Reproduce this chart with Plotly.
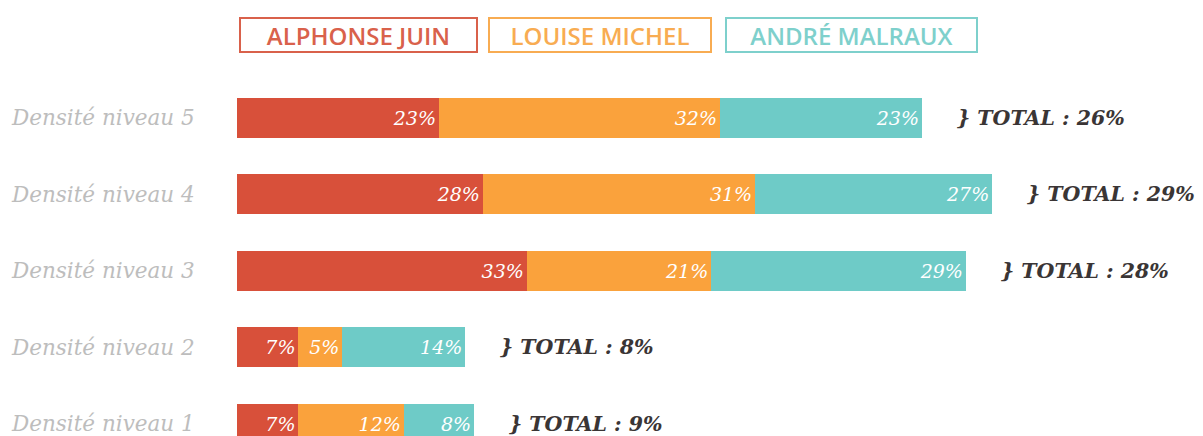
import plotly.graph_objects as go

categories = ["Densité niveau 1", "Densité niveau 2", "Densité niveau 3", "Densité niveau 4", "Densité niveau 5"]
series_names = ["ALPHONSE JUIN", "LOUISE MICHEL", "ANDRÉ MALRAUX"]
alphonse = [7, 7, 33, 28, 23]
louise = [12, 5, 21, 31, 32]
andre = [8, 14, 29, 27, 23]
totals = ["9%", "8%", "28%", "29%", "26%"]

colors = ["#D8503A", "#FAA23C", "#6ECBC7"]
legend_text_colors = ["#D9614B", "#F8AC52", "#7ED0CC"]

ypos = list(range(len(categories)))
fig = go.Figure()
for name, vals, col in zip(series_names, [alphonse, louise, andre], colors):
    fig.add_trace(go.Bar(
        y=ypos, x=vals, name=name, orientation="h",
        marker=dict(color=col, line=dict(width=0)),
        width=0.523,
        text=[f"{v}%" for v in vals],
        textposition="inside", insidetextanchor="end",
        textangle=0,
        textfont=dict(family="DejaVu Serif", size=19, color="white", style="italic"),
        constraintext="none",
        cliponaxis=True,
        hoverinfo="skip",
    ))

# category labels
for y, c in zip(ypos, categories):
    fig.add_annotation(
        x=0, y=y, xref="paper", yref="y", text=c, showarrow=False,
        xanchor="right", yanchor="middle", xshift=-40,
        font=dict(family="DejaVu Serif", size=21.5, color="#BDBDBD", style="italic"),
    )

sums = [a + b + c for a, b, c in zip(alphonse, louise, andre)]
for y, s, t in zip(ypos, sums, totals):
    fig.add_annotation(
        x=s, y=y, xref="x", yref="y", text="} TOTAL : " + t,
        showarrow=False, xanchor="left", xshift=33, yanchor="middle",
        font=dict(family="DejaVu Serif", size=20.5, color="#3a3535", weight="bold", style="italic"),
    )

# legend boxes
legend_x = [0.002, 0.2598, 0.5052]
legend_w = [238, 223, 252]
for name, x0, w, col in zip(series_names, legend_x, legend_w, legend_text_colors):
    fig.add_annotation(
        x=x0, y=1.0, xref="paper", yref="paper", yshift=7,
        xanchor="left", yanchor="bottom",
        text=name, showarrow=False,
        width=w - 3, height=32, align="center", valign="middle",
        bordercolor=col, borderwidth=2, borderpad=0,
        font=dict(family="Open Sans", size=24, color=col, weight=600),
    )

fig.update_layout(
    width=1195, height=428,
    margin=dict(l=229, r=0, t=52, b=0),
    barmode="stack",
    showlegend=False,
    plot_bgcolor="white", paper_bgcolor="white",
    xaxis=dict(range=[0, 110], visible=False, fixedrange=True),
    yaxis=dict(range=[-0.157, 4.758], visible=False, fixedrange=True),
    uniformtext=dict(minsize=8, mode="show"),
)

fig.write_html("out.html")
